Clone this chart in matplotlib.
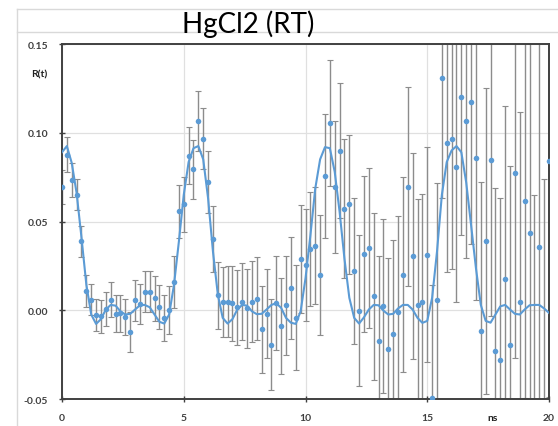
import matplotlib

matplotlib.use("Agg")
import matplotlib.pyplot as plt
from matplotlib.lines import Line2D
import numpy as np

plt.rcParams["font.family"] = ["Lato", "DejaVu Sans"]

# delay times (ns), one point every 0.2 ns
t_ns = np.round(np.arange(101) * 0.2, 1)

# measured R(t)
r_meas = [
    0.0695, 0.0876, 0.0736, 0.0650, 0.0389, 0.0106, 0.0060, -0.0028, -0.0035, 0.0007,
    0.0060, -0.0020, -0.0017, -0.0037, -0.0123, 0.0056, 0.0035, 0.0105, 0.0105, 0.0067,
    0.0017, -0.0045, 0.0004, 0.0159, 0.0557, 0.0596, 0.0870, 0.0794, 0.1066, 0.0967,
    0.0725, 0.0403, 0.0084, 0.0047, 0.0047, 0.0039, 0.0017, 0.0049, 0.0011, 0.0049,
    0.0065, -0.0108, -0.0020, -0.0194, 0.0041, -0.0088, 0.0028, 0.0127, -0.0043, 0.0288,
    0.0254, 0.0346, 0.0364, 0.0198, 0.0756, 0.1055, 0.0693, 0.0898, 0.0573, 0.0596,
    0.0222, -0.0002, 0.0319, 0.0349, 0.0078, -0.0172, 0.0026, -0.0217, -0.0136, -0.0009,
    0.0200, 0.0697, 0.0304, 0.0028, 0.0047, 0.0312, -0.0495, 0.0058, 0.1310, 0.0945,
    0.0964, 0.0807, 0.1203, 0.1068, 0.1171, 0.0859, -0.0118, 0.0390, 0.0846, -0.0232,
    -0.0280, 0.0177, -0.0196, 0.0771, 0.0045, 0.0614, 0.0435, -0.0550, 0.0355, -0.0550,
    0.0840,
]

# error bar half-widths
r_err = [
    0.0095, 0.0098, 0.0096, 0.0088, 0.0087, 0.0090, 0.0088, 0.0090, 0.0092, 0.0095,
    0.0097, 0.0105, 0.0105, 0.0100, 0.0115, 0.0115, 0.0115, 0.0114, 0.0115, 0.0125,
    0.0125, 0.0130, 0.0135, 0.0145, 0.0150, 0.0155, 0.0160, 0.0165, 0.0168, 0.0170,
    0.0175, 0.0185, 0.0190, 0.0197, 0.0200, 0.0210, 0.0210, 0.0217, 0.0224, 0.0230,
    0.0235, 0.0245, 0.0250, 0.0255, 0.0266, 0.0270, 0.0280, 0.0287, 0.0296, 0.0303,
    0.0316, 0.0320, 0.0330, 0.0340, 0.0350, 0.0355, 0.0373, 0.0380, 0.0390, 0.0390,
    0.0410, 0.0425, 0.0440, 0.0450, 0.0470, 0.0480, 0.0490, 0.0510, 0.0530, 0.0540,
    0.0550, 0.0560, 0.0580, 0.0600, 0.0610, 0.0605, 0.0640, 0.0660, 0.0680, 0.0727,
    0.0730, 0.0760, 0.0780, 0.0775, 0.0800, 0.0800, 0.0840, 0.0860, 0.0880, 0.0920,
    0.0910, 0.0975, 0.1010, 0.1040, 0.1070, 0.1110, 0.1150, 0.1200, 0.1250, 0.1290,
    0.1330,
]

# fitted curve, read at the same delay times
r_fit = [
    0.0890, 0.0925, 0.0830, 0.0660, 0.0410, 0.0144, -0.0024, -0.0077, -0.0050, 0.0004,
    0.0030, 0.0026, -0.0006, -0.0024, -0.0020, 0.0004, 0.0028, 0.0030, 0.0017, -0.0024,
    -0.0065, -0.0075, -0.0024, 0.0144, 0.0387, 0.0650, 0.0835, 0.0913, 0.0925, 0.0850,
    0.0630, 0.0330, 0.0088, -0.0043, -0.0075, -0.0050, 0.0004, 0.0030, 0.0026, -0.0006,
    -0.0022, -0.0020, 0.0004, 0.0030, 0.0040, 0.0013, -0.0043, -0.0070, -0.0077, -0.0006,
    0.0180, 0.0420, 0.0685, 0.0850, 0.0919, 0.0913, 0.0780, 0.0555, 0.0290, 0.0070,
    -0.0043, -0.0075, -0.0040, 0.0004, 0.0030, 0.0028, -0.0002, -0.0024, -0.0020, 0.0010,
    0.0030, 0.0030, 0.0004, -0.0043, -0.0071, -0.0060, 0.0070, 0.0330, 0.0650, 0.0835,
    0.0900, 0.0925, 0.0890, 0.0720, 0.0480, 0.0237, 0.0030, -0.0060, -0.0070, -0.0024,
    0.0022, 0.0030, 0.0004, -0.0020, -0.0024, 0.0004, 0.0028, 0.0030, 0.0030, 0.0010,
    -0.0015,
]

x_ticks = [0, 5, 10, 15, 20]
y_ticks = [-0.05, 0.00, 0.05, 0.10, 0.15]

blue = "#5B9BD5"
W, H = 558, 427

fig = plt.figure(figsize=(W / 100, H / 100), dpi=100)
ax = fig.add_axes([62 / W, 1 - 400 / H, (549 - 62) / W, (400 - 45) / H])

ax.errorbar(t_ns, r_meas, yerr=r_err, fmt="none", ecolor="#8c8c8c",
            elinewidth=1.0, capsize=2, capthick=0.8, zorder=2)
ax.plot(t_ns, r_fit, color=blue, lw=1.5, zorder=3)
ax.plot(t_ns, r_meas, "o", color=blue, ms=4, mec="none", zorder=4)

ax.set_xlim(0, 20)
ax.set_ylim(-0.05, 0.15)
ax.set_xticks(x_ticks)
ax.set_yticks(y_ticks)
ax.set_xticklabels([])
ax.set_yticklabels([f"{v:.2f}" for v in y_ticks], fontsize=7.5, color="#404040",
                   fontweight="bold")
ax.grid(True, color="#e0e0e0", lw=0.9)
ax.set_axisbelow(True)
for s in ax.spines.values():
    s.set_color("#404040")
    s.set_linewidth(1.4)
ax.tick_params(axis="both", direction="inout", length=4, width=1, color="#404040", pad=8)

# x tick labels drawn below the frame (last one shares the line with the unit)
for v in x_ticks:
    ax.annotate(str(v), (v, -0.05), xytext=(0, -13), textcoords="offset points",
                ha="center", va="center", fontsize=7.5, color="#404040",
                fontweight="bold", annotation_clip=False)
ax.annotate("ns", (17.7, -0.05), xytext=(0, -13), textcoords="offset points",
            ha="center", va="center", fontsize=7.5, color="#202020",
            fontweight="bold", annotation_clip=False)
fig.text(39 / W, 1 - 75 / H, "R(t)", ha="center", va="center", fontsize=7.5,
         fontweight="bold", color="#202020")

fig.text(248 / W, 1 - 24 / H, "HgCl2 (RT)", ha="center", va="center", fontsize=20)

# chart frame of this chart and the bottom of the one above it
fig.add_artist(Line2D([17 / W, 1], [1 - 10 / H] * 2, color="#d9d9d9", lw=1))
fig.add_artist(Line2D([17 / W, 1], [1 - 33 / H] * 2, color="#d9d9d9", lw=1, zorder=0))
fig.add_artist(Line2D([17 / W] * 2, [0, 1 - 10 / H], color="#d9d9d9", lw=1))
for v, xpix in zip(x_ticks, [62, 183, 304, 425, 546]):
    fig.text(xpix / W, 1 + 3 / H, str(v), ha="center", va="center", fontsize=7.5,
             color="#404040", fontweight="bold")

fig.savefig("out.png", dpi=100)
